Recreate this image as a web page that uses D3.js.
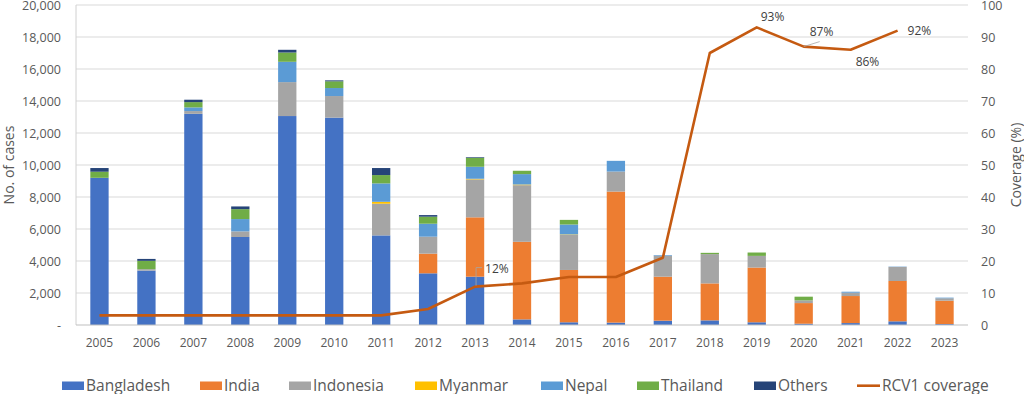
<!DOCTYPE html>
<html><head><meta charset="utf-8">
<script src="https://cdn.jsdelivr.net/npm/d3@7"></script>
<style>
html,body{margin:0;padding:0;background:#fff;}
text{font-family:"Open Sans",sans-serif;}
</style></head>
<body>
<svg id="chart" width="1024" height="394"></svg>
<script>
const years = ["2005","2006","2007","2008","2009","2010","2011","2012","2013","2014","2015","2016","2017","2018","2019","2020","2021","2022","2023"];
const bangladesh = [9200,3400,13200,5500,13060,12960,5600,3230,3020,350,170,150,270,290,170,80,120,230,60];
const india      = [0,0,0,0,0,0,0,1230,3710,4850,3270,8190,2750,2310,3420,1290,1690,2520,1460];
const indonesia  = [0,90,170,350,2120,1350,1980,1060,2370,3540,2190,1250,1310,1830,730,170,210,880,150];
const myanmar    = [0,0,0,0,0,0,120,0,40,40,30,0,0,0,0,0,0,0,0];
const nepal      = [0,0,230,770,1270,500,1150,810,750,650,620,670,40,0,0,0,60,20,40];
const thailand   = [380,520,330,620,580,420,520,440,560,210,290,0,0,80,210,230,0,0,0];
const others     = [230,120,150,170,170,60,440,100,40,0,0,0,0,0,0,0,0,0,0];
const coverage   = [3,3,3,3,3,3,3,5,12,13,15,15,21,85,93,87,86,92,null];
const seriesNames = ["Bangladesh","India","Indonesia","Myanmar","Nepal","Thailand","Others"];
const seriesColors = ["#4472C4","#ED7D31","#A5A5A5","#FFC000","#5B9BD5","#70AD47","#264478"];
const lineName = "RCV1 coverage";
const lineColor = "#C55A11";
const leftTicks = [0,2000,4000,6000,8000,10000,12000,14000,16000,18000,20000];
const rightTicks = [0,10,20,30,40,50,60,70,80,90,100];
const labeledYears = ["2013","2019","2020","2021","2022"];

const seriesValues = [bangladesh,india,indonesia,myanmar,nepal,thailand,others];
const rows = years.map((y,i)=>{const r={year:y}; seriesNames.forEach((s,k)=>r[s]=seriesValues[k][i]); return r;});

const svg = d3.select("#chart");
const L=76, R=968, T=5, B=325;
const x = d3.scaleBand().domain(years).range([L,R]).paddingInner(0.61).paddingOuter(0.305);
const yL = d3.scaleLinear().domain([0,20000]).range([B,T]);
const yR = d3.scaleLinear().domain([0,100]).range([B,T]);

// gridlines
svg.append("g").selectAll("line").data(leftTicks.slice(1)).join("line")
  .attr("x1",L).attr("x2",R).attr("y1",d=>yL(d)).attr("y2",d=>yL(d))
  .attr("stroke","#d9d9d9").attr("stroke-width",1.2);

// bars
const stack = d3.stack().keys(seriesNames)(rows);
svg.append("g").selectAll("g").data(stack).join("g")
  .attr("fill",(d,i)=>seriesColors[i])
  .selectAll("rect").data(d=>d).join("rect")
  .attr("x",d=>x(d.data.year)).attr("width",x.bandwidth())
  .attr("y",d=>yL(d[1])).attr("height",d=>Math.max(0,yL(d[0])-yL(d[1])));

// axes lines
svg.append("line").attr("x1",L).attr("x2",L).attr("y1",T).attr("y2",B).attr("stroke","#d0d0d0").attr("stroke-width",1);
svg.append("line").attr("x1",L).attr("x2",R).attr("y1",B).attr("y2",B).attr("stroke","#bfbfbf").attr("stroke-width",1.2);

// left axis labels
const leftAxis = d3.axisLeft(yL).tickValues(leftTicks).tickSize(0).tickPadding(0)
  .tickFormat(d=>d===0?"-":d3.format(",")(d));
const gl = svg.append("g").attr("transform",`translate(${61},0)`).call(leftAxis);
gl.select(".domain").remove();
gl.selectAll("text").attr("fill","#595959").style("font-size","12.5px").style("font-family","Open Sans");

// right axis labels
const rightAxis = d3.axisRight(yR).tickValues(rightTicks).tickSize(0).tickPadding(0);
const gr = svg.append("g").attr("transform",`translate(${981},0)`).call(rightAxis);
gr.select(".domain").remove();
gr.selectAll("text").attr("fill","#595959").style("font-size","12.5px").style("font-family","Open Sans");

// x axis labels
const xAxis = d3.axisBottom(x).tickSize(0).tickPadding(0);
const gx = svg.append("g").attr("transform",`translate(0,${B+13})`).call(xAxis);
gx.select(".domain").remove();
gx.selectAll("text").attr("fill","#595959").style("font-size","12px").style("font-family","Open Sans");

// axis titles
svg.append("text").attr("transform","translate(14,165) rotate(-90)").attr("text-anchor","middle")
  .attr("fill","#595959").style("font-size","14px").text("No. of cases");
svg.append("text").attr("transform","translate(1021,165) rotate(-90)").attr("text-anchor","middle")
  .attr("fill","#595959").style("font-size","14px").text("Coverage (%)");

// line
const cx = y=>x(y)+x.bandwidth()/2;
const line = d3.line().defined(d=>d.v!=null).x(d=>cx(d.y)).y(d=>yR(d.v));
const lineData = years.map((y,i)=>({y, v:coverage[i]}));
svg.append("path").datum(lineData).attr("d",line).attr("fill","none")
  .attr("stroke",lineColor).attr("stroke-width",2.6).attr("stroke-linejoin","round");

// data labels
const labelOffsets = {"2013":[10,-14],"2019":[4,-6],"2020":[6,-11],"2021":[5,16],"2022":[10,4.5]};
labeledYears.forEach(yr=>{
  const i = years.indexOf(yr);
  const px = cx(yr), py = yR(coverage[i]);
  const [dx,dy] = labelOffsets[yr];
  if(yr==="2013"){
    svg.append("path").attr("d",`M${px+1},${py-1} L${px+1},${py-19} L${px+7},${py-19}`)
      .attr("fill","none").attr("stroke","#a6a6a6").attr("stroke-width",0.8);
  }
  if(yr==="2020"){
    svg.append("line").attr("x1",px).attr("y1",py).attr("x2",px+16).attr("y2",py-5)
      .attr("stroke","#a6a6a6").attr("stroke-width",0.8);
  }
  svg.append("text").attr("x",px+dx).attr("y",py+dy).attr("fill","#404040")
    .style("font-size","12px").text(coverage[i]+"%");
});

// legend
const legX = [62,200,289,415,541,637,754];
const lg = svg.append("g");
seriesNames.forEach((s,i)=>{
  lg.append("rect").attr("x",legX[i]).attr("y",381.5).attr("width",22).attr("height",8.5).attr("fill",seriesColors[i]);
  lg.append("text").attr("x",legX[i]+24).attr("y",391).attr("fill","#595959").style("font-size","15.5px").text(s);
});
lg.append("line").attr("x1",857).attr("x2",880).attr("y1",385.7).attr("y2",385.7).attr("stroke",lineColor).attr("stroke-width",2.6);
lg.append("text").attr("x",882).attr("y",391).attr("fill","#595959").style("font-size","15.5px").text(lineName);
</script>
</body></html>
